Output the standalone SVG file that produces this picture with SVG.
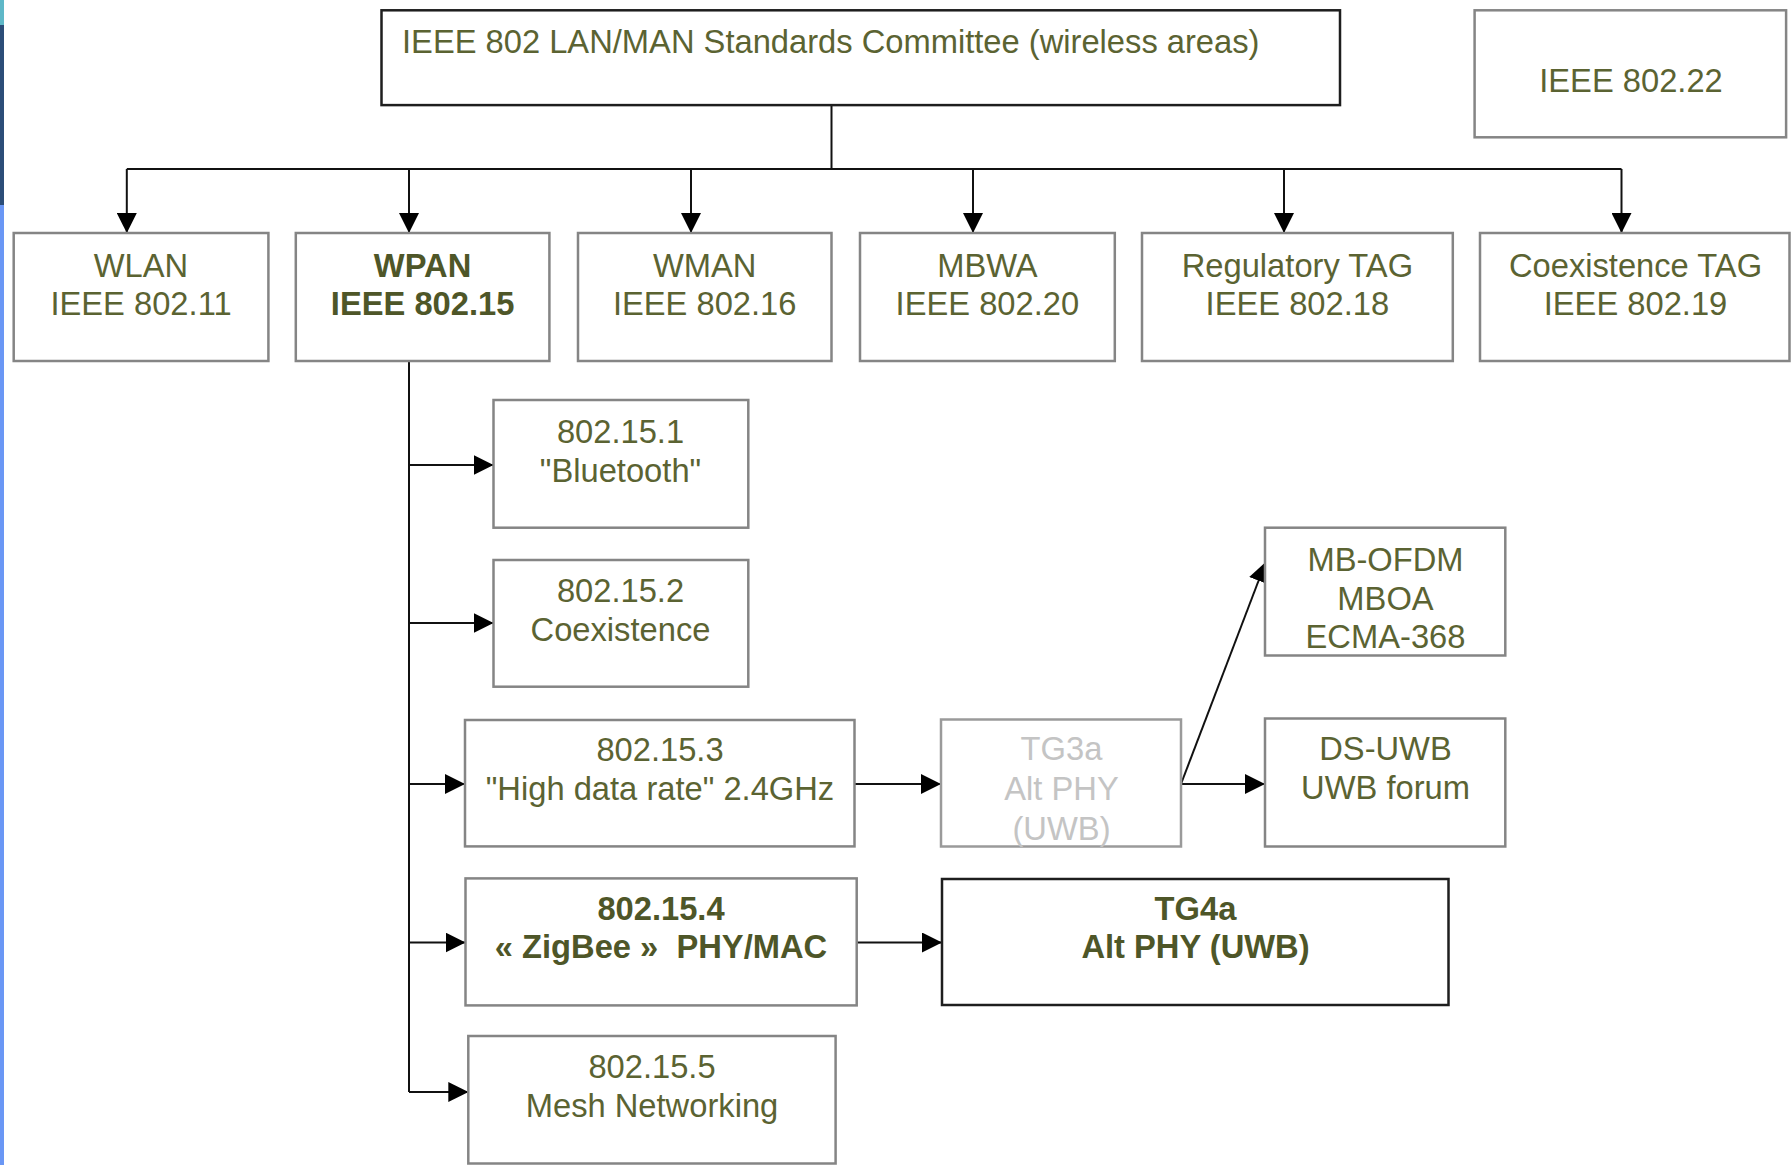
<svg xmlns="http://www.w3.org/2000/svg" width="1791" height="1165" viewBox="0 0 1791 1165">
<style>
  .box { fill: #ffffff; stroke: #858585; stroke-width: 2.5; }
  .dark { stroke: #1e1e1e; }
  .faint { stroke: #9a9a9a; }
  .t { font-family: "Liberation Sans", Arial, sans-serif; font-size: 32.7px; fill: #5b6332; text-anchor: middle; }
  .b { font-weight: bold; fill: #4e5628; }
  .g { fill: #c4c4c4; }
  .conn { fill: none; stroke: #111111; stroke-width: 2; }
</style>
<defs>
  <marker id="arr" markerUnits="userSpaceOnUse" markerWidth="20" markerHeight="20" refX="20" refY="10" orient="auto">
    <path d="M0,0 L20,10 L0,20 z" fill="#000000"/>
  </marker>
</defs>
<rect x="0" y="0" width="1791" height="1165" fill="#ffffff"/>
<rect x="0" y="0" width="4" height="1165" fill="#6a97f5"/>
<rect x="0" y="0" width="4" height="205" fill="#2c4d78"/>
<rect x="0" y="0" width="4" height="25" fill="#5fb8c8"/>

<g id="connectors">
  <polyline class="conn" points="831.5,105 831.5,169"/>
  <polyline class="conn" points="126.8,169 1621.5,169"/>
  <line class="conn" x1="126.8" y1="169" x2="126.8" y2="233" marker-end="url(#arr)"/>
  <line class="conn" x1="409" y1="169" x2="409" y2="233" marker-end="url(#arr)"/>
  <line class="conn" x1="691" y1="169" x2="691" y2="233" marker-end="url(#arr)"/>
  <line class="conn" x1="973" y1="169" x2="973" y2="233" marker-end="url(#arr)"/>
  <line class="conn" x1="1284" y1="169" x2="1284" y2="233" marker-end="url(#arr)"/>
  <line class="conn" x1="1621.5" y1="169" x2="1621.5" y2="233" marker-end="url(#arr)"/>
  <line class="conn" x1="409" y1="361" x2="409" y2="1092"/>
  <line class="conn" x1="409" y1="465" x2="493.5" y2="465" marker-end="url(#arr)"/>
  <line class="conn" x1="409" y1="623" x2="493.5" y2="623" marker-end="url(#arr)"/>
  <line class="conn" x1="409" y1="784" x2="465" y2="784" marker-end="url(#arr)"/>
  <line class="conn" x1="409" y1="942.5" x2="465.5" y2="942.5" marker-end="url(#arr)"/>
  <line class="conn" x1="409" y1="1092" x2="468.3" y2="1092" marker-end="url(#arr)"/>
  <line class="conn" x1="854.5" y1="784" x2="941" y2="784" marker-end="url(#arr)"/>
  <line class="conn" x1="1181" y1="784" x2="1265" y2="784" marker-end="url(#arr)"/>
  <line class="conn" x1="1181" y1="784" x2="1265.7" y2="562" marker-end="url(#arr)"/>
  <line class="conn" x1="857" y1="942.5" x2="942" y2="942.5" marker-end="url(#arr)"/>
</g>

<g id="committee">
  <rect class="box dark" x="381.5" y="10.3" width="958.5" height="94.8"/>
  <text class="t" x="402" y="53" style="text-anchor:start">IEEE 802 LAN/MAN Standards Committee (wireless areas)</text>
</g>
<g id="ieee80222">
  <rect class="box" x="1474.6" y="10.3" width="311.5" height="127"/>
  <text class="t" x="1631" y="91.5">IEEE 802.22</text>
</g>

<g id="wlan">
  <rect class="box" x="13.7" y="233" width="254.7" height="128"/>
  <text class="t" x="141" y="276.5">WLAN</text>
  <text class="t" x="141" y="315">IEEE 802.11</text>
</g>
<g id="wpan">
  <rect class="box" x="295.8" y="233" width="253.6" height="128"/>
  <text class="t b" x="422.6" y="276.5">WPAN</text>
  <text class="t b" x="422.6" y="315">IEEE 802.15</text>
</g>
<g id="wman">
  <rect class="box" x="578" y="233" width="253.5" height="128"/>
  <text class="t" x="704.7" y="276.5">WMAN</text>
  <text class="t" x="704.7" y="315">IEEE 802.16</text>
</g>
<g id="mbwa">
  <rect class="box" x="860" y="233" width="254.8" height="128"/>
  <text class="t" x="987.4" y="276.5">MBWA</text>
  <text class="t" x="987.4" y="315">IEEE 802.20</text>
</g>
<g id="regulatory">
  <rect class="box" x="1142" y="233" width="310.8" height="128"/>
  <text class="t" x="1297.4" y="276.5">Regulatory TAG</text>
  <text class="t" x="1297.4" y="315">IEEE 802.18</text>
</g>
<g id="coexistence-tag">
  <rect class="box" x="1480" y="233" width="309.5" height="128"/>
  <text class="t" x="1635.5" y="276.5">Coexistence TAG</text>
  <text class="t" x="1635.5" y="315">IEEE 802.19</text>
</g>

<g id="n802151">
  <rect class="box" x="493.5" y="400" width="254.8" height="127.7"/>
  <text class="t" x="620.5" y="443">802.15.1</text>
  <text class="t" x="620.5" y="482">"Bluetooth"</text>
</g>
<g id="n802152">
  <rect class="box" x="493.5" y="560" width="254.8" height="126.7"/>
  <text class="t" x="620.5" y="602">802.15.2</text>
  <text class="t" x="620.5" y="640.5">Coexistence</text>
</g>
<g id="n802153">
  <rect class="box" x="465" y="720" width="389.5" height="126.4"/>
  <text class="t" x="660" y="760.5">802.15.3</text>
  <text class="t" x="660" y="799.5">"High data rate" 2.4GHz</text>
</g>
<g id="tg3a">
  <rect class="box faint" x="941" y="719.5" width="240" height="127"/>
  <text class="t g" x="1061.5" y="760">TG3a</text>
  <text class="t g" x="1061.5" y="800">Alt PHY</text>
  <text class="t g" x="1061.5" y="840">(UWB)</text>
</g>
<g id="mbofdm">
  <rect class="box" x="1265" y="527.7" width="240.3" height="127.8"/>
  <text class="t" x="1385.5" y="571">MB-OFDM</text>
  <text class="t" x="1385.5" y="610">MBOA</text>
  <text class="t" x="1385.5" y="648">ECMA-368</text>
</g>
<g id="dsuwb">
  <rect class="box" x="1265" y="718.5" width="240.3" height="128"/>
  <text class="t" x="1385.5" y="760">DS-UWB</text>
  <text class="t" x="1385.5" y="799">UWB forum</text>
</g>
<g id="n802154">
  <rect class="box" x="465.5" y="878.4" width="391.2" height="127"/>
  <text class="t b" x="661" y="920">802.15.4</text>
  <text class="t b" x="661" y="958" style="white-space:pre">« ZigBee »  PHY/MAC</text>
</g>
<g id="tg4a">
  <rect class="box dark" x="942" y="879" width="506.5" height="126"/>
  <text class="t b" x="1195.5" y="920">TG4a</text>
  <text class="t b" x="1195.5" y="958">Alt PHY (UWB)</text>
</g>
<g id="n802155">
  <rect class="box" x="468.3" y="1036" width="367.3" height="127.5"/>
  <text class="t" x="652" y="1078">802.15.5</text>
  <text class="t" x="652" y="1116.5">Mesh Networking</text>
</g>
</svg>
